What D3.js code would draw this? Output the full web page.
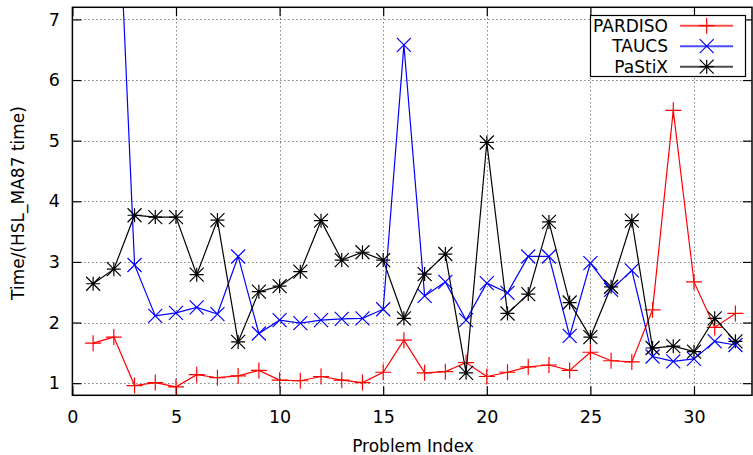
<!DOCTYPE html>
<html>
<head>
<meta charset="utf-8">
<script src="https://cdn.jsdelivr.net/npm/d3@7"></script>
<style>
  body { margin: 0; background: #fff; }
  text { font-family: "DejaVu Sans", sans-serif; }
</style>
</head>
<body>
<svg id="app"></svg>
<script>
const problems = d3.range(1, 33);
const pardiso = [1.66, 1.76, 0.96, 1.01, 0.94, 1.14, 1.09, 1.12, 1.21, 1.05, 1.04, 1.11, 1.05, 1.01, 1.18, 1.71,
                 1.17, 1.19, 1.34, 1.11, 1.18, 1.27, 1.30, 1.21, 1.51, 1.37, 1.35, 2.21, 5.50, 2.67, 1.92, 2.15];
const taucs = [null, 10.8, 2.95, 2.11, 2.16, 2.25, 2.14, 3.09, 1.82, 2.04, 1.99, 2.04, 2.06, 2.07, 2.22, 6.58,
               2.44, 2.67, 2.04, 2.65, 2.49, 3.09, 3.09, 1.78, 2.98, 2.54, 2.86, 1.44, 1.36, 1.40, 1.69, 1.63];
const pastix = [2.64, 2.88, 3.77, 3.74, 3.74, 2.79, 3.69, 1.68, 2.51, 2.60, 2.84, 3.68, 3.03, 3.16, 3.03, 2.07,
                2.80, 3.13, 1.17, 4.97, 2.15, 2.47, 3.66, 2.33, 1.76, 2.59, 3.68, 1.58, 1.61, 1.52, 2.07, 1.69];
const xTicks = [0, 5, 10, 15, 20, 25, 30];
const yTicks = [1, 2, 3, 4, 5, 6, 7];

const series = [
    {name: "PARDISO", values: pardiso, color: "#ff0000", marker: "plus"},
    {name: "TAUCS", values: taucs, color: "#0000ff", marker: "cross"},
    {name: "PaStiX", values: pastix, color: "#000000", marker: "star"},
];

const width = 753, height = 455;
const margin = {left: 72.4, right: 1, top: 7.3, bottom: 59.7};

const svg = d3.select("#app")
    .attr("width", width)
    .attr("height", height);

const x = d3.scaleLinear().domain([0, 32.8]).range([margin.left, width - margin.right]);
const y = d3.scaleLinear().domain([0.8, 7.2]).range([height - margin.bottom, margin.top]);

svg.append("defs").append("clipPath").attr("id", "clip")
    .append("rect")
    .attr("x", x.range()[0]).attr("y", y.range()[1])
    .attr("width", x.range()[1] - x.range()[0])
    .attr("height", y.range()[0] - y.range()[1]);

// grid
const grid = svg.append("g")
    .attr("stroke", "#000")
    .attr("stroke-opacity", 0.75)
    .attr("stroke-width", 1)
    .attr("stroke-dasharray", "1,3");
xTicks.filter(d => d > 0).forEach(d => {
    grid.append("line")
        .attr("x1", Math.round(x(d)) + 0.5).attr("x2", Math.round(x(d)) + 0.5)
        .attr("y1", y.range()[0]).attr("y2", y.range()[1]);
});
yTicks.forEach(d => {
    grid.append("line")
        .attr("x1", x.range()[0]).attr("x2", x.range()[1])
        .attr("y1", Math.round(y(d)) + 0.5).attr("y2", Math.round(y(d)) + 0.5);
});

// axes
const axisBottom = d3.axisBottom(x).tickValues(xTicks).tickSize(-9).tickPadding(15).tickFormat(d3.format("d"));
const axisTop = d3.axisTop(x).tickValues(xTicks).tickSize(-9).tickFormat("");
const axisLeft = d3.axisLeft(y).tickValues(yTicks).tickSize(-9).tickPadding(12.5).tickFormat(d3.format("d"));
const axisRight = d3.axisRight(y).tickValues(yTicks).tickSize(-9).tickFormat("");

function styleAxis(g) {
    g.select(".domain").remove();
    g.selectAll(".tick line").attr("stroke", "#000").attr("stroke-width", 1.2);
    g.selectAll(".tick text").attr("font-size", 17.5).attr("fill", "#000")
        .attr("font-family", "DejaVu Sans");
}

svg.append("g").attr("transform", `translate(0,${y.range()[0]})`).call(axisBottom).call(styleAxis);
svg.append("g").attr("transform", `translate(0,${y.range()[1]})`).call(axisTop).call(styleAxis);
svg.append("g").attr("transform", `translate(${x.range()[0]},0)`).call(axisLeft).call(styleAxis);
svg.append("g").attr("transform", `translate(${x.range()[1]},0)`).call(axisRight).call(styleAxis);

svg.append("rect")
    .attr("x", x.range()[0]).attr("y", y.range()[1])
    .attr("width", x.range()[1] - x.range()[0])
    .attr("height", y.range()[0] - y.range()[1])
    .attr("fill", "none").attr("stroke", "#000").attr("stroke-width", 1.5);

// markers
function markerPath(type, cx, cy) {
    const p = 8, c = 7;
    const plus = `M${cx - p},${cy}H${cx + p}M${cx},${cy - p}V${cy + p}`;
    const cross = `M${cx - c},${cy - c}L${cx + c},${cy + c}M${cx - c},${cy + c}L${cx + c},${cy - c}`;
    if (type === "plus") return plus;
    if (type === "cross") return cross;
    return `M${cx - c},${cy}H${cx + c}M${cx},${cy - c}V${cy + c}` + cross;
}

const plot = svg.append("g").attr("clip-path", "url(#clip)");
const line = d3.line()
    .defined(d => d.v != null)
    .x(d => x(d.i))
    .y(d => y(d.v));

series.forEach(s => {
    const pts = problems.map((p, k) => ({i: p, v: s.values[k]}));
    plot.append("path")
        .datum(pts)
        .attr("d", line)
        .attr("fill", "none")
        .attr("stroke", s.color)
        .attr("stroke-width", 1.2);
    plot.selectAll(null)
        .data(pts.filter(d => d.v != null))
        .join("path")
        .attr("d", d => markerPath(s.marker, x(d.i), y(d.v)))
        .attr("fill", "none")
        .attr("stroke", s.color)
        .attr("stroke-width", 1.2);
});

// legend
const legend = svg.append("g");
legend.append("rect")
    .attr("x", 590.5).attr("y", 15.5)
    .attr("width", 155).attr("height", 61)
    .attr("fill", "#fff").attr("stroke", "#000").attr("stroke-width", 1.2);
series.forEach((s, k) => {
    const ly = 25.7 + k * 20.5;
    legend.append("text")
        .attr("x", 668).attr("y", ly)
        .attr("dy", "0.36em")
        .attr("text-anchor", "end")
        .attr("font-size", 17)
        .attr("fill", "#000")
        .text(s.name);
    legend.append("line")
        .attr("x1", 680).attr("x2", 733)
        .attr("y1", ly).attr("y2", ly)
        .attr("stroke", s.color).attr("stroke-width", 2)
        .attr("stroke-opacity", 0.7);
    legend.append("path")
        .attr("d", markerPath(s.marker, 706.7, ly))
        .attr("fill", "none")
        .attr("stroke", s.color).attr("stroke-width", 1.2);
});

// axis titles
svg.append("text")
    .attr("x", 413).attr("y", 446)
    .attr("dy", "0.36em")
    .attr("text-anchor", "middle")
    .attr("font-size", 17)
    .attr("fill", "#000")
    .text("Problem Index");

svg.append("text")
    .attr("transform", "translate(18,203) rotate(-90)")
    .attr("dy", "0.36em")
    .attr("text-anchor", "middle")
    .attr("font-size", 17)
    .attr("fill", "#000")
    .text("Time/(HSL_MA87 time)");
</script>
</body>
</html>
